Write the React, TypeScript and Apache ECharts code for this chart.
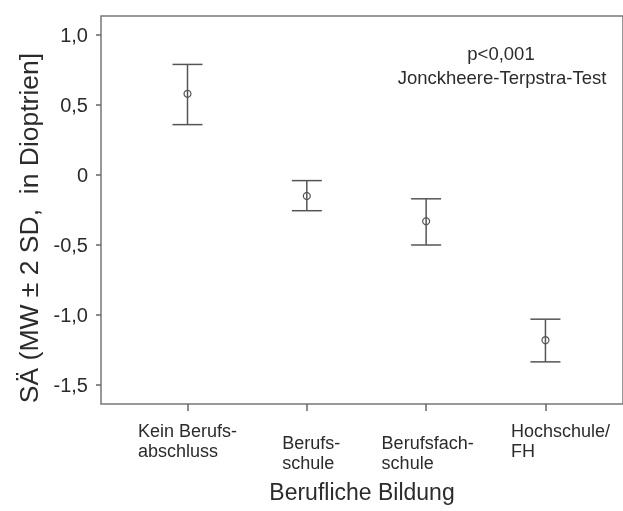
import React, { useEffect, useRef } from "react";
import * as echarts from "echarts";

const categories = ["Kein Berufs-\nabschluss", "Berufs-\nschule", "Berufsfach-\nschule", "Hochschule/\nFH"];
const positions = [1, 2, 3, 4];
const means = [0.58, -0.15, -0.33, -1.18];
const upper = [0.79, -0.04, -0.17, -1.03];
const lower = [0.36, -0.255, -0.5, -1.335];
const yTicks = [-1.5, -1, -0.5, 0, 0.5, 1];
const yTitle = "SÄ (MW ± 2 SD,  in Dioptrien]";
const xTitle = "Berufliche Bildung";
const annotation = ["p<0,001", "Jonckheere-Terpstra-Test"];

const FONT = "'Liberation Sans', Arial, sans-serif";
const INK = "#2b2b2b";
const LINE = "#555";

export default function App() {
  const ref = useRef<HTMLDivElement>(null);
  useEffect(() => {
    if (!ref.current) return;
    const chart = echarts.init(ref.current, null, { renderer: "svg" });
    const data = positions.map((p, i) => [p, means[i], lower[i], upper[i]]);
    const labelStyle: Record<number, string> = { 0: "a", 1: "b", 2: "c", 3: "d" };
    const lineBase = { fontSize: 18, lineHeight: 20, fontFamily: FONT, color: INK, align: "left" as const };
    const rich = {
      a: { ...lineBase },
      b: { ...lineBase, padding: [0, 0, 0, 9] },
      c: { ...lineBase, padding: [0, 0, 0, 3] },
      d: { ...lineBase, padding: [0, 0, 0, 30] },
    };
    const fmt = (v: number) => {
      const i = Math.round(v) - 1;
      const st = labelStyle[i];
      return categories[i].split("\n").map((l) => `{${st}|${l}}`).join("\n");
    };
    const highLabels = [positions[0], positions[3]];
    const lowLabels = [positions[1], positions[2]];
    const xBase = {
      type: "value",
      min: 0.275,
      max: 4.65,
      position: "bottom",
      splitLine: { show: false },
      axisLine: { show: false, onZero: false },
    };
    chart.setOption({
      animation: false,
      textStyle: { fontFamily: FONT },
      grid: { left: 101, top: 16, bottom: 107, right: -3, show: true, borderColor: "#777", borderWidth: 1.5 },
      xAxis: [
        {
          ...xBase,
          axisTick: { show: true, customValues: positions, length: 7, lineStyle: { color: "#666", width: 1.5 } },
          axisLabel: { customValues: highLabels, margin: 17, formatter: fmt, rich },
          name: xTitle,
          nameLocation: "middle",
          nameGap: 76,
          nameTextStyle: { fontSize: 23, color: INK, fontFamily: FONT },
        },
        {
          ...xBase,
          axisTick: { show: false },
          axisLabel: { customValues: lowLabels, margin: 29, formatter: fmt, rich },
        },
      ],
      yAxis: {
        type: "value",
        min: -1.636,
        max: 1.136,
        splitLine: { show: false },
        axisLine: { show: false, onZero: false },
        axisTick: { show: true, customValues: yTicks, length: 5, lineStyle: { color: "#666", width: 1.5 } },
        axisLabel: {
          customValues: yTicks,
          margin: 13,
          fontSize: 20,
          color: INK,
          fontFamily: FONT,
          formatter: (v: number) => (Math.abs(v) < 1e-9 ? "0" : v.toFixed(1).replace(".", ",")),
        },
        name: yTitle,
        nameLocation: "middle",
        nameGap: 51,
        nameTextStyle: { fontSize: 26.5, color: INK, fontFamily: FONT, padding: [0, 36, 0, 0] },
      },
      graphic: [
        { type: "text", x: 501, y: 53, style: { text: annotation[0], fontSize: 18.5, fontFamily: FONT, fill: INK, textAlign: "center", textVerticalAlign: "middle" } },
        { type: "text", x: 502, y: 77, style: { text: annotation[1], fontSize: 18.5, fontFamily: FONT, fill: INK, textAlign: "center", textVerticalAlign: "middle" } },
      ],
      series: [
        {
          type: "custom",
          data,
          clip: false,
          xAxisIndex: 0,
          renderItem: (params: any, api: any) => {
            const x = api.value(0);
            const m = api.coord([x, api.value(1)]);
            const lo = api.coord([x, api.value(2)]);
            const hi = api.coord([x, api.value(3)]);
            const hw = 15;
            const s = { stroke: LINE, lineWidth: 1.5 };
            return {
              type: "group",
              children: [
                { type: "line", shape: { x1: hi[0], y1: hi[1], x2: lo[0], y2: lo[1] }, style: s },
                { type: "line", shape: { x1: hi[0] - hw, y1: hi[1], x2: hi[0] + hw, y2: hi[1] }, style: s },
                { type: "line", shape: { x1: lo[0] - hw, y1: lo[1], x2: lo[0] + hw, y2: lo[1] }, style: s },
                { type: "circle", shape: { cx: m[0], cy: m[1], r: 3.5 }, style: { fill: "none", stroke: LINE, lineWidth: 1.2 } },
              ],
            };
          },
        },
      ],
    });
    return () => chart.dispose();
  }, []);
  return <div ref={ref} style={{ position: "fixed", left: 0, top: 0, width: 623, height: 511 }} />;
}
